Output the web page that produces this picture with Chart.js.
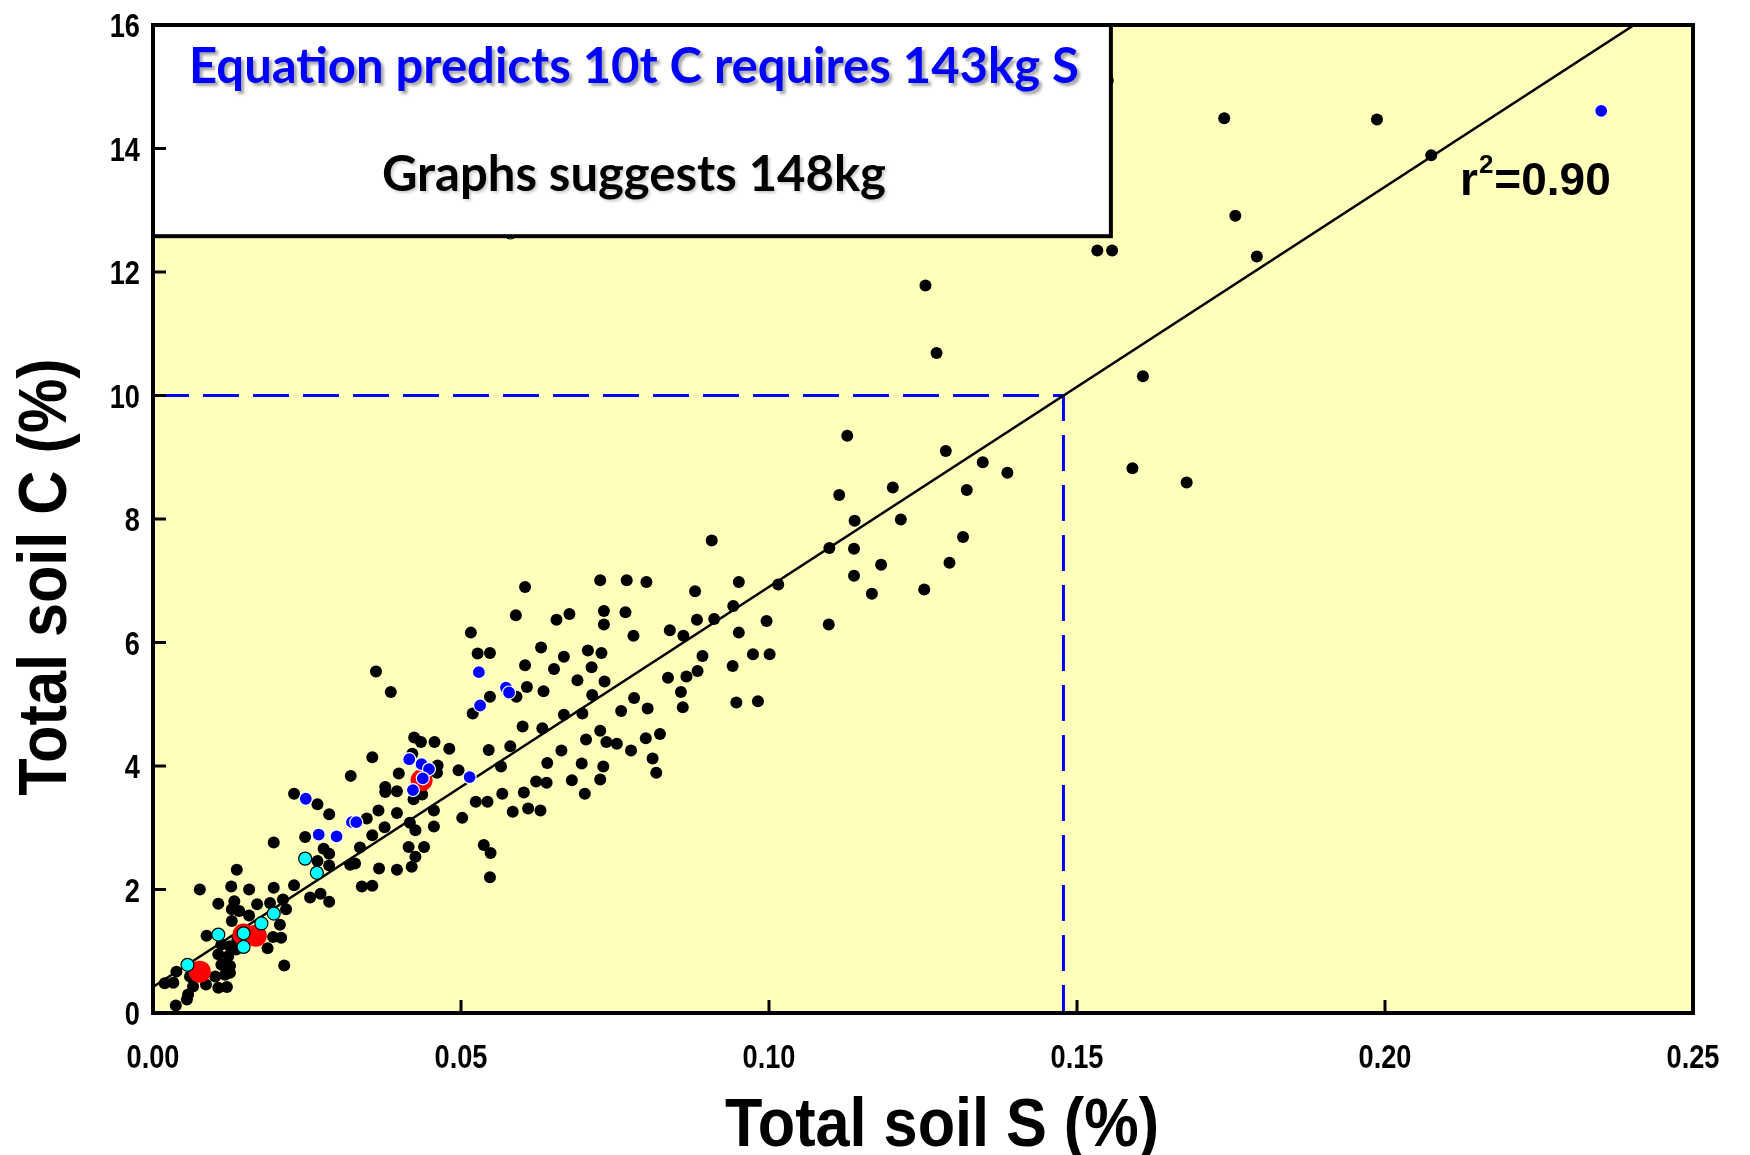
<!DOCTYPE html>
<html>
<head>
<meta charset="utf-8">
<script src="https://cdn.jsdelivr.net/npm/chart.js@4/dist/chart.umd.min.js"></script>
<style>
  html, body { margin: 0; padding: 0; background: #fff; }
  #wrap { width: 1750px; height: 1155px; }
</style>
</head>
<body>
<div id="wrap"><canvas id="soilChart" width="1750" height="1155"></canvas></div>
<script>
// axis ticks
const sTicks = [0, 0.05, 0.10, 0.15, 0.20, 0.25];
const cTicks = [0, 2, 4, 6, 8, 10, 12, 14, 16];

// texts
const xTitle = "Total soil S (%)";
const yTitle = "Total soil C (%)";
const boxLine1 = "Equation predicts 10t C requires 143kg S";
const boxLine2 = "Graphs suggests 148kg";
const r2Value = "=0.90";

// [S %, C %]
const blackPoints = [
  [0.1127,9.35],[0.1287,9.10],[0.1347,8.92],[0.1387,8.75],[0.1201,8.51],[0.1114,8.39],[0.1321,8.47],
  [0.1139,7.97],[0.1214,7.99],[0.1315,7.71],[0.0907,7.65],[0.1098,7.53],[0.1138,7.52],[0.1182,7.26],
  [0.1293,7.29],[0.1138,7.08],[0.1167,6.79],[0.1252,6.86],[0.1097,6.29],[0.1015,6.94],[0.0951,6.98],
  [0.0880,6.83],[0.0801,6.98],[0.0769,7.01],[0.0726,7.01],[0.0942,6.59],[0.0883,6.37],[0.0911,6.38],
  [0.0996,6.35],[0.0839,6.20],[0.0861,6.11],[0.0951,6.16],[0.0767,6.49],[0.0732,6.51],[0.0732,6.29],
  [0.0780,6.11],[0.0892,5.78],[0.0974,5.81],[0.1001,5.81],[0.0941,5.62],[0.0884,5.54],[0.0866,5.45],
  [0.0836,5.43],[0.0857,5.20],[0.0860,4.95],[0.0947,5.03],[0.0982,5.05],[0.0781,5.10],[0.0803,4.93],
  [0.0760,4.89],[0.0733,5.37],[0.0728,5.83],[0.0823,4.52],[0.0800,4.45],[0.0776,4.25],[0.0736,4.39],
  [0.0753,4.36],[0.0811,4.12],[0.0817,3.89],[0.0731,3.99],[0.0726,3.78],[0.0726,4.57],
  [0.0604,6.90],[0.0589,6.44],[0.0655,6.37],[0.0676,6.46],[0.0516,6.16],[0.0527,5.82],[0.0547,5.83],
  [0.0630,5.92],[0.0604,5.63],[0.0667,5.77],[0.0651,5.57],[0.0706,5.87],[0.0712,5.60],[0.0689,5.39],
  [0.0607,5.28],[0.0634,5.21],[0.0713,5.15],[0.0362,5.53],[0.0386,5.20],[0.0547,5.12],[0.0590,5.12],
  [0.0519,4.85],[0.0600,4.64],[0.0632,4.61],[0.0667,4.83],[0.0697,4.85],[0.0703,4.43],[0.0580,4.32],
  [0.0545,4.26],[0.0565,3.99],[0.0640,4.05],[0.0663,4.25],[0.0696,4.04],
  [0.0537,2.72],[0.0548,2.59],[0.0547,2.20],[0.0502,3.16],[0.0524,3.42],[0.0543,3.42],[0.0567,3.55],
  [0.0602,3.57],[0.0584,3.26],[0.0609,3.31],[0.0629,3.28],[0.0622,3.75],[0.0639,3.73],[0.0680,3.77],
  [0.0701,3.55],[0.0496,3.93],[0.0481,4.28],[0.0457,4.39],[0.0435,4.39],[0.0424,4.46],[0.0356,4.14],
  [0.0399,3.88],[0.0377,3.66],[0.0377,3.58],[0.0396,3.59],[0.0321,3.84],[0.0462,4.01],[0.0461,3.89],
  [0.0421,4.20],[0.0423,3.46],[0.0437,3.54],[0.0456,3.28],[0.0426,2.96],[0.0456,3.02],[0.0417,3.08],
  [0.0440,2.69],[0.0415,2.69],[0.0426,2.53],[0.0420,2.37],[0.0396,2.32],[0.0367,2.34],[0.0339,2.05],
  [0.0356,2.06],[0.0320,2.40],[0.0328,2.42],[0.0336,2.68],[0.0356,2.88],[0.0376,3.01],[0.0366,3.28],
  [0.0396,3.24],[0.0347,3.15],[0.0267,3.38],[0.0286,3.22],[0.0247,2.85],[0.0277,2.66],[0.0286,2.58],
  [0.0267,2.46],[0.0286,2.39],[0.0255,1.87],[0.0272,1.93],[0.0286,1.80],
  [0.0229,3.55],[0.0196,2.76],[0.0136,2.32],[0.0076,2.00],[0.0127,2.05],[0.0156,2.00],[0.0196,2.03],
  [0.0229,2.07],[0.0106,1.77],[0.0132,1.81],[0.0128,1.68],[0.0140,1.65],[0.0169,1.76],[0.0190,1.78],
  [0.0211,1.84],[0.0216,1.68],[0.0128,1.49],[0.0156,1.58],[0.0206,1.43],[0.0208,1.22],[0.0195,1.23],
  [0.0186,1.05],[0.0213,0.77],[0.0087,1.25],[0.0111,1.11],[0.0125,1.08],[0.0137,1.19],[0.0106,0.95],
  [0.0122,0.92],[0.0111,0.78],[0.0125,0.76],[0.0117,0.62],[0.0125,0.65],[0.0106,0.41],[0.0120,0.42],
  [0.0135,1.03],[0.0101,0.59],[0.0086,0.46],[0.0019,0.48],[0.0038,0.67],[0.0033,0.49],[0.0057,0.30],
  [0.0065,0.43],[0.0055,0.22],[0.0037,0.12],[0.0060,0.59],
  [0.1254,11.78],[0.1272,10.69],[0.1533,12.35],[0.1557,12.35],[0.1550,15.10],[0.1739,14.49],
  [0.1987,14.47],[0.2075,13.89],[0.1757,12.91],[0.1792,12.25],[0.1607,10.31],[0.1590,8.82],[0.1678,8.59]
];
const bluePoints = [
  [0.0529,5.52],[0.0573,5.27],[0.0578,5.19],[0.0531,4.98],[0.0514,3.82],[0.0416,4.11],[0.0436,4.03],
  [0.0448,3.95],[0.0438,3.80],[0.0422,3.61],[0.0323,3.09],[0.0330,3.09],[0.0269,2.89],[0.0298,2.86],
  [0.0248,3.47],[0.2351,14.61]
];
const cyanPoints = [
  [0.0247,2.50],[0.0266,2.27],[0.0106,1.27],[0.0147,1.29],[0.0147,1.07],[0.0176,1.45],[0.0196,1.61],
  [0.0056,0.78],[0.0580,12.64]
];
const redPoints = [[0.0076,0.67],[0.0147,1.27],[0.0167,1.25],[0.0436,3.77]];

// fitted line and the 10 t C read-off
const fitS = [0, 0.25];
const fitC = [0.42, 16.62];
const guideS = [0, 0.1478, 0.1478];
const guideC = [10, 10, 0];

// where the white box ends (axis units)
const boxEnd = { s: 0.1555, c: 12.58 };

const toXY = (pts) => pts.map((p) => ({ x: p[0], y: p[1] }));
const zip = (xs, ys) => xs.map((x, i) => ({ x: x, y: ys[i] }));

const ARIAL = '"Liberation Sans", Arial, sans-serif';
const CALIBRI = 'Lato, "Open Sans", sans-serif';

// condensed bold text, like the narrow Arial of the original
function narrowText(ctx, text, x, y, size, squeeze, align) {
  ctx.save();
  ctx.translate(x, y);
  ctx.scale(squeeze, 1);
  ctx.font = "bold " + size + "px " + ARIAL;
  ctx.textAlign = align;
  ctx.textBaseline = "alphabetic";
  ctx.fillText(text, 0, 0);
  ctx.restore();
}

const frame = {
  id: "frame",
  beforeDatasetsDraw(chart) {
    const { ctx, chartArea: a } = chart;
    ctx.save();
    ctx.fillStyle = "#ffffbb";
    ctx.fillRect(a.left, a.top, a.width, a.height);
    ctx.restore();
  },
  afterDatasetsDraw(chart) {
    const { ctx, chartArea: a, scales } = chart;
    const x = scales.x, y = scales.y;
    ctx.save();

    // white text box
    const bx = x.getPixelForValue(boxEnd.s);
    const by = y.getPixelForValue(boxEnd.c);
    ctx.fillStyle = "#fff";
    ctx.fillRect(a.left, a.top, bx - a.left, by - a.top);
    ctx.lineWidth = 4;
    ctx.strokeStyle = "#000";
    ctx.strokeRect(a.left, a.top, bx - a.left, by - a.top);

    const cx = (a.left + bx) / 2 + 2;
    ctx.textAlign = "center";
    ctx.textBaseline = "alphabetic";
    ctx.shadowColor = "rgba(0,0,0,0.35)";
    ctx.shadowOffsetX = 3;
    ctx.shadowOffsetY = 3;
    ctx.shadowBlur = 3;
    ctx.font = "bold 49px " + CALIBRI;
    ctx.fillStyle = "#0000ff";
    ctx.fillText(boxLine1, cx, a.top + 58);
    ctx.shadowColor = "rgba(0,0,0,0.2)";
    ctx.shadowOffsetX = 2;
    ctx.shadowOffsetY = 2;
    ctx.fillStyle = "#000";
    ctx.fillText(boxLine2, cx, a.top + 166);
    ctx.shadowColor = "rgba(0,0,0,0)";

    // r^2 label
    ctx.textAlign = "left";
    ctx.font = "bold 46px " + ARIAL;
    const rx = 1460, ry = 195;
    ctx.fillText("r", rx, ry);
    const rw = ctx.measureText("r").width;
    ctx.font = "bold 26px " + ARIAL;
    ctx.fillText("2", rx + rw + 1, ry - 22);
    const tw = ctx.measureText("2").width;
    ctx.font = "bold 46px " + ARIAL;
    ctx.fillText(r2Value, rx + rw + tw + 2, ry);

    // plot frame
    ctx.lineWidth = 4;
    ctx.strokeRect(a.left, a.top, a.width, a.height);

    // inward tick marks
    ctx.lineWidth = 3;
    ctx.beginPath();
    sTicks.forEach((v) => {
      const px = x.getPixelForValue(v);
      ctx.moveTo(px, a.bottom);
      ctx.lineTo(px, a.bottom - 13);
    });
    cTicks.forEach((v) => {
      const py = y.getPixelForValue(v);
      ctx.moveTo(a.left, py);
      ctx.lineTo(a.left + 13, py);
    });
    ctx.stroke();

    // tick labels
    ctx.fillStyle = "#000";
    sTicks.forEach((v) => {
      narrowText(ctx, v.toFixed(2), x.getPixelForValue(v), a.bottom + 55, 34, 0.8, "center");
    });
    cTicks.forEach((v) => {
      narrowText(ctx, String(v), a.left - 13, y.getPixelForValue(v) + 12, 34, 0.8, "right");
    });
    ctx.restore();
  },
  afterDraw(chart) {
    const { ctx } = chart;
    ctx.save();
    ctx.fillStyle = "#000";
    narrowText(ctx, xTitle, 942, 1146, 68, 0.9, "center");
    ctx.translate(66, 577);
    ctx.rotate(-Math.PI / 2);
    narrowText(ctx, yTitle, 0, 0, 68, 0.9, "center");
    ctx.restore();
  }
};

new Chart(document.getElementById("soilChart"), {
  type: "scatter",
  data: {
    datasets: [
      { data: toXY(bluePoints), order: 0, backgroundColor: "#0000ff", borderColor: "#ffffff",
        borderWidth: 1.2, pointRadius: 6.5 },
      { data: toXY(cyanPoints), order: 1, backgroundColor: "#00ffff", borderColor: "#000000",
        borderWidth: 1.2, pointRadius: 6.5 },
      { data: toXY(redPoints), order: 2, backgroundColor: "#ff0000", borderWidth: 0, pointRadius: 11 },
      { data: toXY(blackPoints), order: 3, backgroundColor: "#000000", borderWidth: 0, pointRadius: 6 },
      { data: zip(fitS, fitC), order: 4, showLine: true, borderColor: "#000000", borderWidth: 2.5,
        pointRadius: 0, fill: false },
      { data: zip(guideS, guideC), order: 5, showLine: true, borderColor: "#0000ff", borderWidth: 3,
        borderDash: [36, 14], pointRadius: 0, fill: false }
    ]
  },
  options: {
    responsive: false,
    animation: false,
    devicePixelRatio: 1,
    layout: { padding: { top: 25, right: 57, left: 0, bottom: 0 } },
    plugins: { legend: { display: false }, tooltip: { enabled: false } },
    scales: {
      x: {
        type: "linear",
        min: 0,
        max: 0.25,
        grid: { display: false, drawTicks: false },
        border: { display: false },
        afterBuildTicks: (s) => { s.ticks = sTicks.map((v) => ({ value: v })); },
        afterFit: (s) => { s.height = 142; },
        ticks: { display: false }
      },
      y: {
        type: "linear",
        min: 0,
        max: 16,
        grid: { display: false, drawTicks: false },
        border: { display: false },
        afterBuildTicks: (s) => { s.ticks = cTicks.map((v) => ({ value: v })); },
        afterFit: (s) => { s.width = 153; },
        ticks: { display: false }
      }
    }
  },
  plugins: [frame]
});
</script>
</body>
</html>
